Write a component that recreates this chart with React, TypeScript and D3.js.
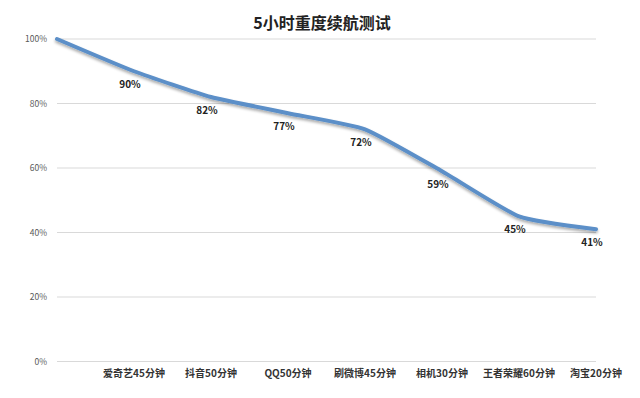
import * as React from 'react';
import * as d3 from 'd3';

const categories = ['', '爱奇艺45分钟', '抖音50分钟', 'QQ50分钟', '刷微博45分钟', '相机30分钟', '王者荣耀60分钟', '淘宝20分钟'];
const batteryLeft = [100, 90, 82, 77, 72, 59, 45, 41];
const yTicks = [0, 20, 40, 60, 80, 100];
const title = '5小时重度续航测试';

const W = 640;
const H = 398;
const font = '"Noto Sans CJK SC", "Microsoft YaHei", sans-serif';

export default function App() {
  const keys = categories.map((c, i) => i + ':' + c);
  const x = d3.scalePoint<string>().domain(keys).range([57, 596]);
  const y = d3.scaleLinear().domain([0, 100]).range([361.5, 39]);

  const line = d3.line<number>()
    .x((d, i) => x(keys[i]) as number)
    .y(d => y(d))
    .curve(d3.curveCardinal.tension(0.5));

  const path = line(batteryLeft) || '';

  return (
    <svg width={W} height={H} style={{ position: 'absolute', left: 0, top: 0, background: '#fff' }}>
      <defs>
        <filter id="shadow" x="-10%" y="-10%" width="120%" height="130%">
          <feGaussianBlur in="SourceAlpha" stdDeviation="1.5" />
          <feOffset dx="0" dy="2" result="off" />
          <feComponentTransfer><feFuncA type="linear" slope="0.35" /></feComponentTransfer>
          <feMerge>
            <feMergeNode />
            <feMergeNode in="SourceGraphic" />
          </feMerge>
        </filter>
      </defs>
      <text x={322} y={29} textAnchor="middle" fontFamily={font} fontWeight="bold" fontSize={16} fill="#222">{title}</text>
      {yTicks.map(t => (
        <g key={t}>
          <line x1={57} x2={596} y1={y(t)} y2={y(t)} stroke="#d9d9d9" strokeWidth={1} />
          <text x={47} y={y(t) + 3} textAnchor="end" fontFamily={font} fontSize={8.5} fill="#595959">{t + '%'}</text>
        </g>
      ))}
      <path d={path} fill="none" stroke="#5b8fc8" strokeWidth={4} strokeLinecap="round" strokeLinejoin="round" filter="url(#shadow)" />
      {batteryLeft.map((v, i) => i === 0 ? null : (
        <text key={i} x={(x(keys[i]) as number) - 4} y={y(v) + 17} textAnchor="middle" fontFamily={font} fontWeight="bold" fontSize={10} fill="#222">{v + '%'}</text>
      ))}
      {categories.map((c, i) => (
        <text key={i} x={x(keys[i]) as number} y={377} textAnchor="middle" fontFamily={font} fontWeight="bold" fontSize={10} fill="#333">{c}</text>
      ))}
    </svg>
  );
}
